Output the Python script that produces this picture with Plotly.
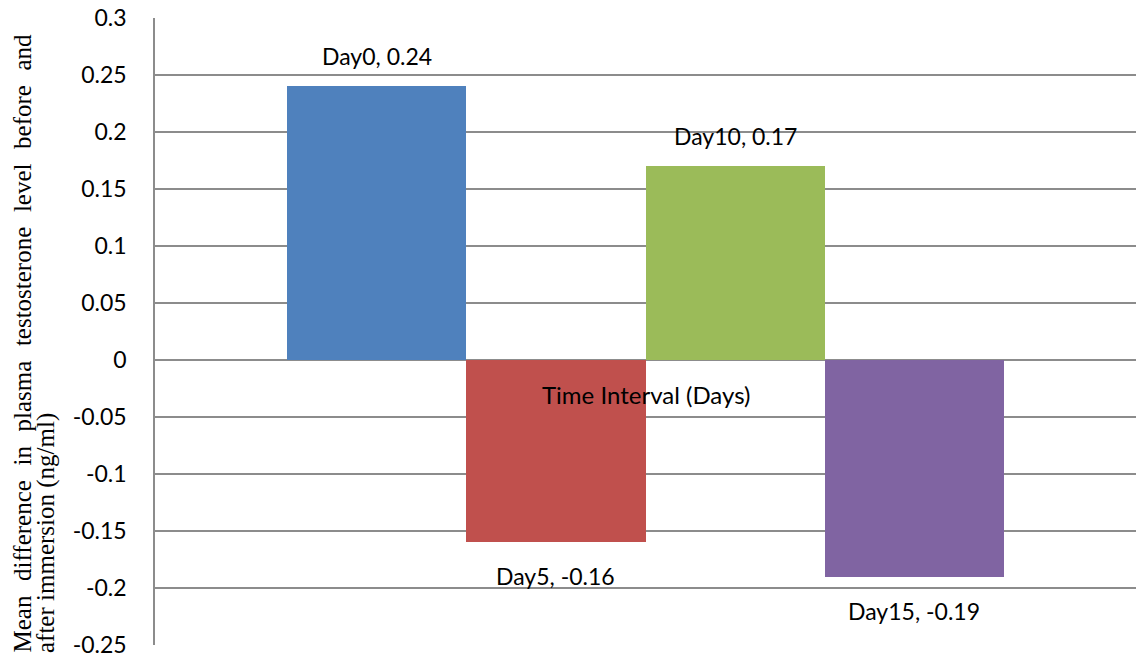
import plotly.graph_objects as go

days = ["Day0", "Day5", "Day10", "Day15"]
values = [0.24, -0.16, 0.17, -0.19]
colors = ["#4F81BD", "#C0504D", "#9BBB59", "#8064A2"]
y_ticks = [0.3, 0.25, 0.2, 0.15, 0.1, 0.05, 0, -0.05, -0.1, -0.15, -0.2, -0.25]
y_title_1 = "Mean difference in plasma testosterone level before and"
y_title_2 = "after immersion (ng/ml)"
x_title = "Time Interval (Days)"

y_title_1_spaced = y_title_1.replace(" ", " \u00a0\u200a")

fig = go.Figure()
fig.add_trace(go.Bar(x=days, y=values, marker=dict(color=colors, line=dict(width=0)),
                     width=1.0, showlegend=False, hoverinfo="skip"))

annotations = []
for d, v in zip(days, values):
    annotations.append(dict(
        x=d, y=v, xref="x", yref="y", text=f"{d}, {v:g}", showarrow=False,
        yanchor="bottom" if v >= 0 else "top", yshift=14 if v >= 0 else -18,
        font=dict(family="Lato", size=23, color="#000000")))

annotations.append(dict(x=0.5, y=0.399, xref="paper", yref="paper", text=x_title,
                        showarrow=False, xanchor="center", yanchor="middle",
                        font=dict(family="Lato", size=24, color="#000000")))
annotations.append(dict(x=0, xshift=22 - 155, y=0, yshift=-10, xref="paper", yref="paper",
                        text=y_title_1_spaced, textangle=-90, showarrow=False,
                        xanchor="center", yanchor="bottom",
                        font=dict(family="Liberation Serif", size=25, color="#000000")))
annotations.append(dict(x=0, xshift=46 - 155, y=0, yshift=-10, xref="paper", yref="paper",
                        text=y_title_2, textangle=-90, showarrow=False,
                        xanchor="center", yanchor="bottom",
                        font=dict(family="Liberation Serif", size=25, color="#000000")))

fig.update_layout(
    width=1136, height=662,
    margin=dict(l=155, r=0, t=18, b=17, autoexpand=False),
    paper_bgcolor="white", plot_bgcolor="white",
    bargap=0,
    annotations=annotations,
    xaxis=dict(range=[-1.24, 4.24], showticklabels=False, showgrid=False,
               zeroline=False, showline=False, fixedrange=True, automargin=False),
    yaxis=dict(range=[-0.25, 0.3], tickvals=y_ticks,
               ticktext=[f"{t:g}" for t in y_ticks],
               showgrid=True, gridcolor="#8C8C8C", gridwidth=1.5,
               zeroline=True, zerolinecolor="#8C8C8C", zerolinewidth=1.5,
               showline=True, linecolor="#8C8C8C", linewidth=1.5,
               ticks="", ticklabelstandoff=22, automargin=False,
               ticklabeloverflow="allow", fixedrange=True,
               tickfont=dict(family="Lato", size=23, color="#000000")),
)

fig.write_html("out.html", config={"displayModeBar": False},
               post_script="document.body.style.margin='0';document.body.style.overflow='hidden';")
